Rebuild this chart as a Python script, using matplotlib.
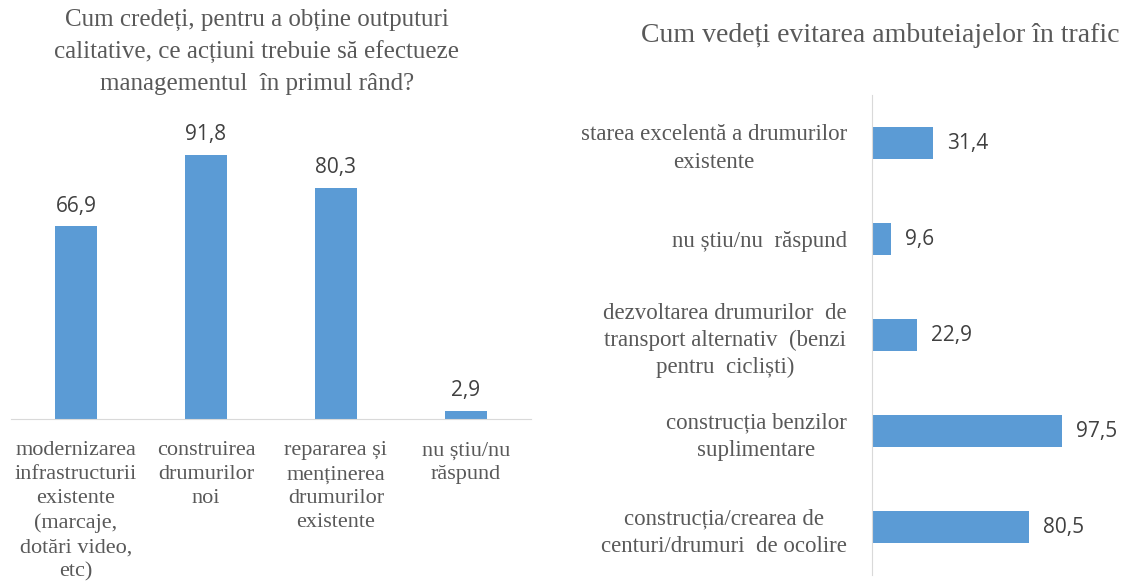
import matplotlib.pyplot as plt

# left chart data
left_title = "Cum credeți, pentru a obține outputuri\ncalitative, ce acțiuni trebuie să efectueze\nmanagementul  în primul rând?"
left_cats = ["modernizarea\ninfrastructurii\nexistente\n(marcaje,\ndotări video,\netc)",
             "construirea\ndrumurilor\nnoi",
             "repararea și\nmenținerea\ndrumurilor\nexistente",
             "nu știu/nu\nrăspund"]
left_vals = [66.9, 91.8, 80.3, 2.9]

# right chart data
right_title = "Cum vedeți evitarea ambuteiajelor în trafic"
right_cats = ["starea excelentă a drumurilor\nexistente",
              "nu știu/nu  răspund",
              "dezvoltarea drumurilor  de\ntransport alternativ  (benzi\npentru  cicliști)",
              "construcția benzilor\nsuplimentare",
              "construcția/crearea de\ncenturi/drumuri  de ocolire"]
right_vals = [31.4, 9.6, 22.9, 97.5, 80.5]

BAR = "#5B9BD5"
TXT = "#595959"
LBL = "#404040"
AXC = "#D9D9D9"
SERIF = "Liberation Serif"
SANS = "Open Sans"

W, H = 1123, 585
fig = plt.figure(figsize=(W / 100, H / 100), dpi=100)

def fx(px):
    return px / W

def fy(py):
    return 1 - py / H

# ---- left: vertical bars
ax1 = fig.add_axes([fx(11), fy(419), fx(520), fy(131) - fy(419)])
xs = range(len(left_vals))
ax1.bar(xs, left_vals, width=0.32, color=BAR)
ax1.set_xlim(-0.5, len(left_vals) - 0.5)
ax1.set_ylim(0, 100)
for x, v in zip(xs, left_vals):
    ax1.annotate(f"{v:.1f}".replace(".", ","), (x, v), xytext=(0, 7),
                 textcoords="offset points", ha="center", va="bottom",
                 fontsize=15, color=LBL, family=SANS)
ax1.set_xticks(list(xs))
ax1.set_xticklabels(left_cats, fontsize=16, color=TXT, family=SERIF,
                    va="top", linespacing=1.36)
ax1.tick_params(axis="x", length=0, pad=16)
ax1.set_yticks([])
for s in ["top", "right", "left"]:
    ax1.spines[s].set_visible(False)
ax1.spines["bottom"].set_color(AXC)
fig.text(fx(257), fy(52), left_title, ha="center", va="center",
         fontsize=18, color=TXT, family=SERIF, linespacing=1.52)

# ---- right: horizontal bars
ax2 = fig.add_axes([fx(872), fy(575), fx(195), fy(95) - fy(575)])
ys = range(len(right_vals))
ax2.barh(ys, right_vals, height=0.34, color=BAR)
ax2.set_ylim(len(right_vals) - 0.5, -0.5)
ax2.set_xlim(0, 100)
for y, v in zip(ys, right_vals):
    ax2.annotate(f"{v:.1f}".replace(".", ","), (v, y), xytext=(10, 0),
                 textcoords="offset points", ha="left", va="center",
                 fontsize=15, color=LBL, family=SANS)
ax2.set_yticks(list(ys))
ax2.set_yticklabels(right_cats, fontsize=16.5, color=TXT, family=SERIF,
                    ha="right", multialignment="center", linespacing=1.38)
ax2.tick_params(axis="y", length=0, pad=18)
ax2.set_xticks([])
for s in ["top", "right", "bottom"]:
    ax2.spines[s].set_visible(False)
ax2.spines["left"].set_color(AXC)
fig.text(fx(880), fy(35), right_title, ha="center", va="center",
         fontsize=20, color=TXT, family=SERIF)

fig.savefig("out.png", dpi=100)
